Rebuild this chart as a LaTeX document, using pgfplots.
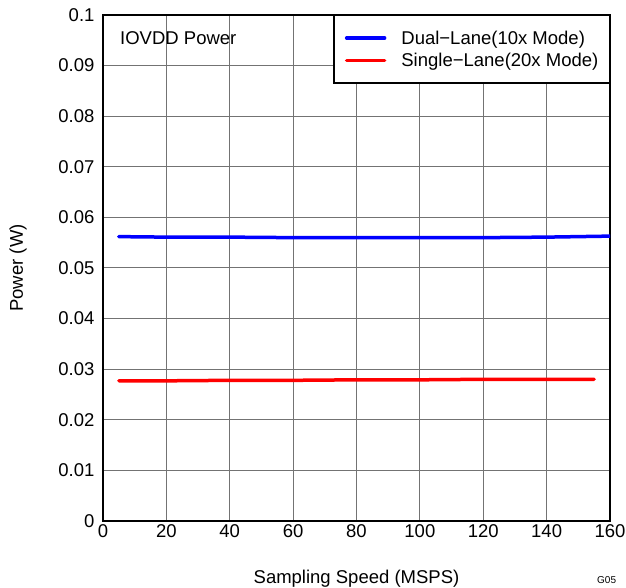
\documentclass[border=0pt]{standalone}
\usepackage{pgfplots}
\pgfplotsset{compat=1.18}
\usepackage{fontspec}
\setmainfont{Liberation Sans}
\begin{document}
\begin{tikzpicture}
\begin{axis}[
  scale only axis, width=507pt, height=506pt,
  xmin=0, xmax=160, ymin=0, ymax=0.1,
  xtick={0,20,40,60,80,100,120,140,160},
  ytick={0,0.01,0.02,0.03,0.04,0.05,0.06,0.07,0.08,0.09,0.1},
  yticklabels={0,0.01,0.02,0.03,0.04,0.05,0.06,0.07,0.08,0.09,0.1},
  scaled y ticks=false,
  /pgf/number format/assume math mode=true,
  grid=major,
  major grid style={draw=black!55, line width=1pt},
  major tick length=0pt,
  axis line style={line width=2.2pt},
  tick label style={font=\fontsize{18.5}{22}\selectfont},
  yticklabel style={xshift=-5pt},
  xlabel={Sampling Speed (MSPS)},
  ylabel={Power (W)},
  label style={font=\fontsize{18.5}{22}\selectfont},
  xlabel style={at={(axis description cs:0.5,0)}, anchor=base, yshift=-62pt},
  ylabel style={at={(axis description cs:-0.1677,0.5)}, anchor=center},
  legend style={at={(1,1)}, anchor=north east, draw=black, line width=1.3pt,
    font=\fontsize{18.5}{22}\selectfont, cells={anchor=west},
    nodes={inner sep=0pt},
    inner xsep=11pt, inner ysep=15pt, row sep=7.5pt, column sep=15pt},
  legend image code/.code={\draw[#1] (0pt,0pt) -- (38pt,0pt);},
]
\addplot[blue, line width=3.5pt, line cap=round] coordinates {
  (5,0.0562) (20,0.0561) (40,0.0561) (60,0.0560) (80,0.0560) (100,0.0560) (120,0.0560) (140,0.0561) (160,0.0563)};
\addlegendentry{Dual−Lane(10x Mode)}
\addplot[red, line width=3.5pt, line cap=round] coordinates {
  (5,0.0277) (20,0.0277) (40,0.0278) (60,0.0278) (80,0.0279) (100,0.0279) (120,0.0280) (140,0.0280) (155,0.0280)};
\addlegendentry{Single−Lane(20x Mode)}
\node[anchor=base west, font=\fontsize{18.5}{22}\selectfont, inner sep=0pt] at (rel axis cs:0,1) [xshift=17pt, yshift=-30pt] {IOVDD Power};
\end{axis}
\node[anchor=base west, font=\fontsize{10}{12}\selectfont, inner sep=0pt] at (494pt,-63pt) {G05};
\pgfresetboundingbox
\path (-103pt,-67pt) rectangle (523pt,521pt);
\end{tikzpicture}
\end{document}
